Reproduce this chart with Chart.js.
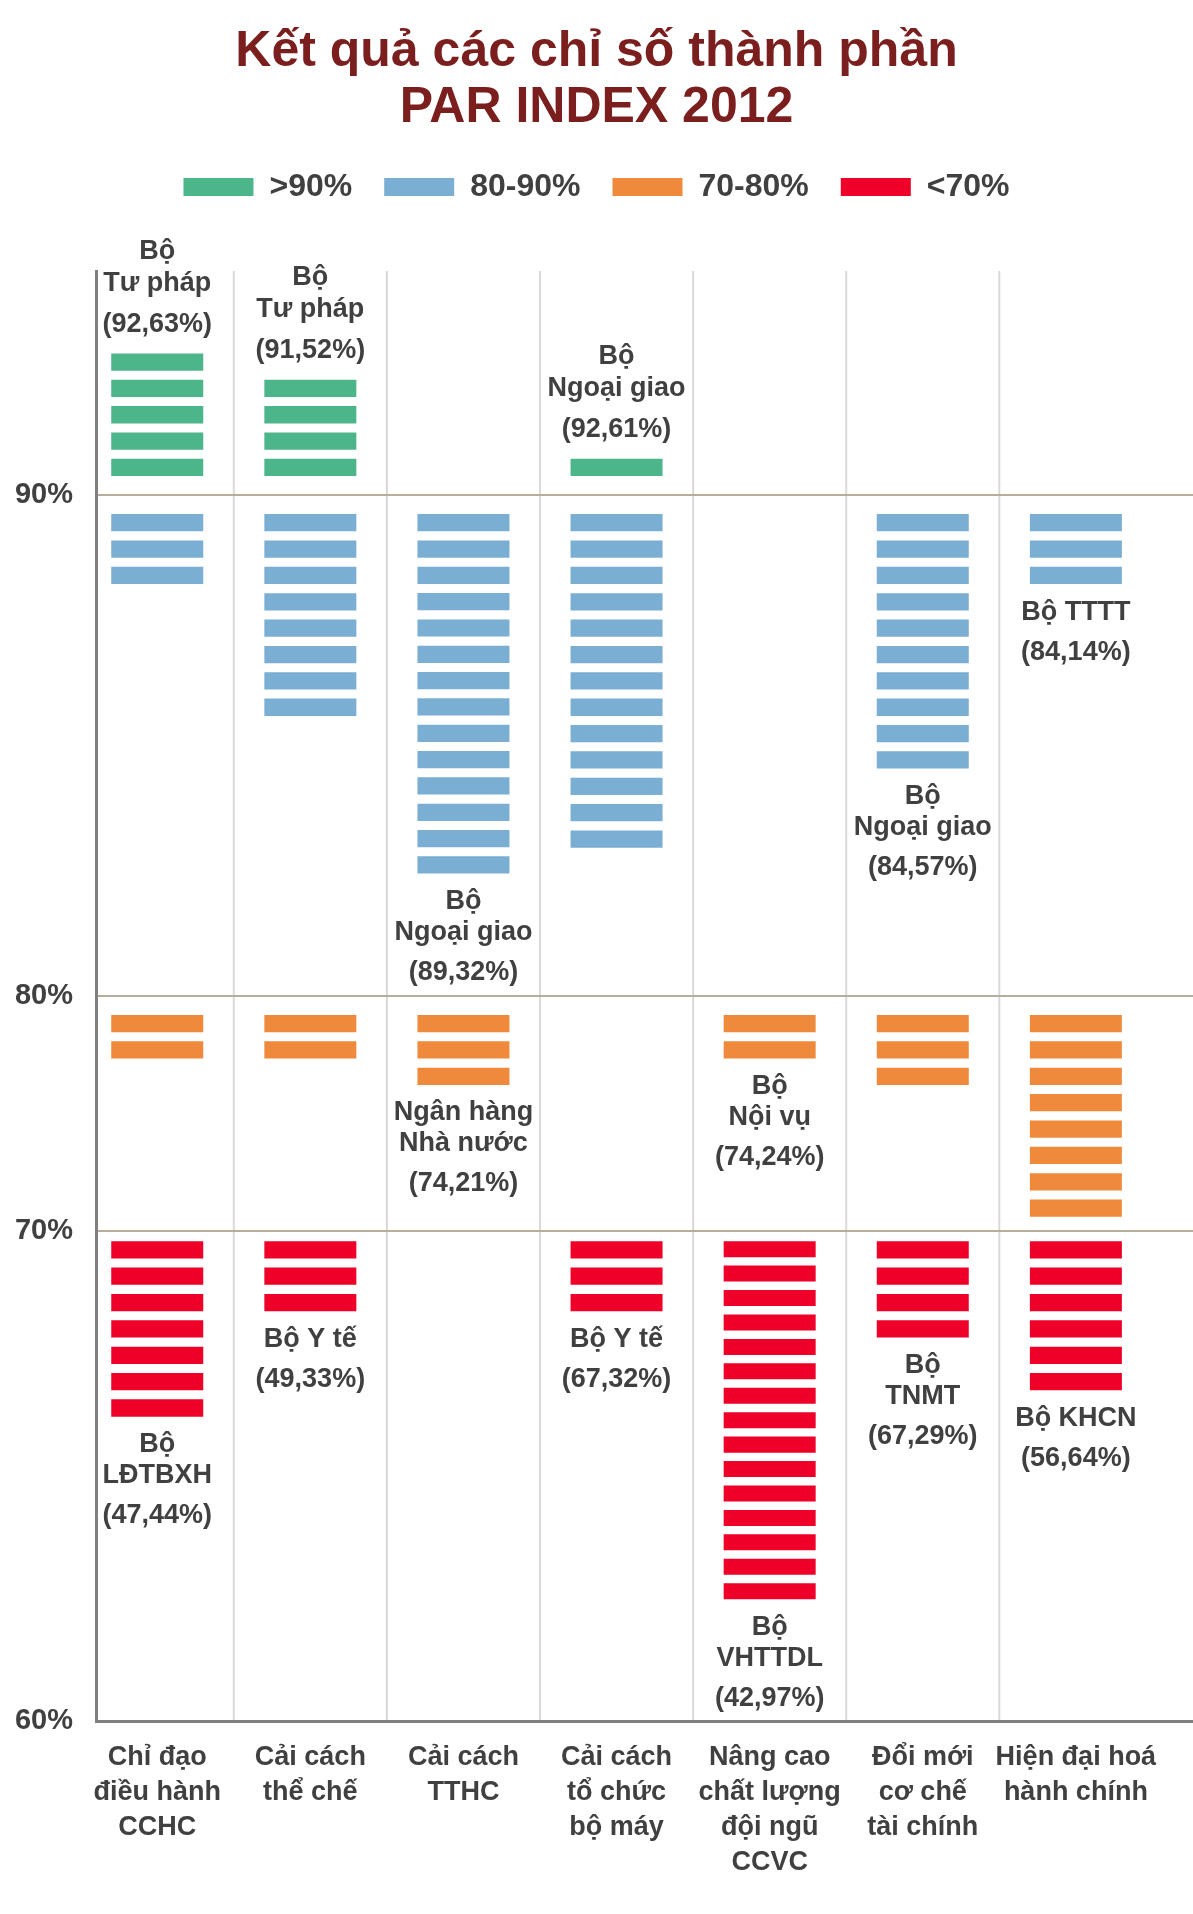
<!DOCTYPE html>
<html lang="vi">
<head>
<meta charset="utf-8">
<title>PAR INDEX 2012</title>
<script src="https://cdn.jsdelivr.net/npm/chart.js@4.4.1/dist/chart.umd.min.js"></script>
<style>
  html, body { margin: 0; padding: 0; background: #fff; }
  #wrap { width: 1193px; height: 1914px; }
</style>
</head>
<body>
<div id="wrap"><canvas id="parChart" width="1193" height="1914"></canvas></div>
<script>
// chỉ số thành phần (trục ngang)
const categories = [
  ['Chỉ đạo', 'điều hành', 'CCHC'],
  ['Cải cách', 'thể chế'],
  ['Cải cách', 'TTHC'],
  ['Cải cách', 'tổ chức', 'bộ máy'],
  ['Nâng cao', 'chất lượng', 'đội ngũ', 'CCVC'],
  ['Đổi mới', 'cơ chế', 'tài chính'],
  ['Hiện đại hoá', 'hành chính'],
];

// số bộ trong từng khoảng điểm
const countAbove90 = [5, 4, 0, 1, 0, 0, 0];
const count80to90 = [3, 8, 14, 13, 0, 10, 3];
const count70to80 = [2, 2, 3, 0, 2, 3, 8];
const countBelow70 = [7, 3, 0, 3, 15, 4, 6];

const bandLabels = ['>90%', '80-90%', '70-80%', '<70%'];
const yTickLabels = ['60%', '70%', '80%', '90%'];

// bộ cao nhất / thấp nhất của mỗi chỉ số
const bestNames = [
  ['Bộ', 'Tư pháp'], ['Bộ', 'Tư pháp'], ['Bộ', 'Ngoại giao'], ['Bộ', 'Ngoại giao'],
  ['Bộ', 'Nội vụ'], ['Bộ', 'Ngoại giao'], ['Bộ TTTT'],
];
const bestScores = [92.63, 91.52, 89.32, 92.61, 74.24, 84.57, 84.14];
const worstNames = [
  ['Bộ', 'LĐTBXH'], ['Bộ Y tế'], ['Ngân hàng', 'Nhà nước'], ['Bộ Y tế'],
  ['Bộ', 'VHTTDL'], ['Bộ', 'TNMT'], ['Bộ KHCN'],
];
const worstScores = [47.44, 49.33, 74.21, 67.32, 42.97, 67.29, 56.64];

const FONT = "'Liberation Sans', Arial, sans-serif";
const TEXT = '#404040';
const bandColors = ['#4cb68a', '#7aaed3', '#ef8a3c', '#ef0029'];

// trục dọc đo bằng "ô" (mỗi vạch một ô), các mốc 60/70/80/90%
const Y_EDGES = [0, 18.6, 27.5, 46.5];
const Y_MAX = 55;
const BAND_EDGE = [46.5, 46.5, 27.5, 18.6];
const BAND_FLOOR = [Y_MAX, 27.5, 18.6, 0];
const EDGE_GAP = [0.72, 0.72, 0.72, 0.4];
const DASH = 0.655;
const LABEL_ROOM = 4.3;

const counts = [countAbove90, count80to90, count70to80, countBelow70];
const bandOf = v => (v >= 90 ? 0 : v >= 80 ? 1 : v >= 70 ? 2 : 3);
const hasLabelBelow = (b, i) =>
  (b > 0 && bandOf(bestScores[i]) === b) || bandOf(worstScores[i]) === b;

const stacks = counts.map(() => []);
const datasets = counts.map((arr, b) => {
  const data = [];
  arr.forEach((n, i) => {
    if (!n) return;
    const room = Math.abs(BAND_EDGE[b] - BAND_FLOOR[b]) - EDGE_GAP[b] -
      (hasLabelBelow(b, i) ? LABEL_ROOM : 0);
    const s = Math.min(1, room / n);
    let top = -Infinity, bottom = Infinity;
    for (let k = 0; k < n; k++) {
      let lo, hi;
      if (b === 0) {
        lo = BAND_EDGE[b] + EDGE_GAP[b] + k * s;
        hi = lo + DASH * s;
      } else {
        hi = BAND_EDGE[b] - EDGE_GAP[b] - k * s;
        lo = hi - DASH * s;
      }
      data.push({ x: i, y: [lo, hi] });
      top = Math.max(top, hi);
      bottom = Math.min(bottom, lo);
    }
    stacks[b][i] = { top, bottom };
  });
  return {
    label: bandLabels[b],
    data,
    backgroundColor: bandColors[b],
    borderWidth: 0,
    grouped: false,
    maxBarThickness: 92,
  };
});

const columnLines = {
  id: 'columnLines',
  beforeDraw(chart) {
    const { ctx, chartArea, scales: { x } } = chart;
    ctx.save();
    ctx.strokeStyle = '#d9d9d9';
    ctx.lineWidth = 2;
    for (let i = 0; i < categories.length - 1; i++) {
      const px = x.getPixelForValue(i + 0.5);
      ctx.beginPath();
      ctx.moveTo(px, chartArea.top);
      ctx.lineTo(px, chartArea.bottom);
      ctx.stroke();
    }
    ctx.restore();
  },
};

const ministryLabels = {
  id: 'ministryLabels',
  afterDatasetsDraw(chart) {
    const { ctx, scales: { x, y } } = chart;
    ctx.save();
    ctx.font = `bold 27px ${FONT}`;
    ctx.fillStyle = TEXT;
    ctx.textAlign = 'center';
    ctx.textBaseline = 'middle';
    const put = (i, names, score) => {
      const b = bandOf(score);
      const st = stacks[b][i];
      const cx = x.getPixelForValue(i);
      const pct = '(' + score.toFixed(2).replace('.', ',') + '%)';
      if (b === 0) {
        let cy = y.getPixelForValue(st.top) - 29;
        ctx.fillText(pct, cx, cy);
        cy -= 41;
        for (let j = names.length - 1; j >= 0; j--) {
          ctx.fillText(names[j], cx, cy);
          cy -= 32;
        }
      } else {
        let cy = y.getPixelForValue(st.bottom) + 28;
        names.forEach((t, j) => {
          if (j > 0) cy += 31;
          ctx.fillText(t, cx, cy);
        });
        ctx.fillText(pct, cx, cy + 40);
      }
    };
    categories.forEach((_, i) => {
      put(i, bestNames[i], bestScores[i]);
      put(i, worstNames[i], worstScores[i]);
    });
    ctx.restore();
  },
};

new Chart(document.getElementById('parChart'), {
  type: 'bar',
  data: { datasets },
  options: {
    responsive: false,
    devicePixelRatio: 1,
    animation: false,
    events: [],
    layout: { padding: 0 },
    scales: {
      x: {
        type: 'linear',
        min: -0.4,
        max: 6.765,
        bounds: 'data',
        offset: false,
        afterBuildTicks: s => { s.ticks = categories.map((_, i) => ({ value: i })); },
        afterFit: s => { s.height = 193; },
        grid: { display: false, drawTicks: false, offset: false },
        border: { display: true, color: '#808080', width: 3 },
        ticks: {
          autoSkip: false,
          maxRotation: 0,
          minRotation: 0,
          padding: 19,
          color: TEXT,
          font: { family: FONT, size: 27, weight: 'bold', lineHeight: 1.3 },
          callback: v => categories[v],
        },
      },
      y: {
        min: 0,
        max: Y_MAX,
        bounds: 'data',
        afterBuildTicks: s => { s.ticks = Y_EDGES.map(v => ({ value: v })); },
        afterFit: s => { s.width = 96; },
        grid: {
          drawTicks: false,
          lineWidth: 2,
          color: c => (c.tick && c.tick.value === 0 ? 'rgba(0,0,0,0)' : '#b7ad9b'),
        },
        border: { color: '#808080', width: 3 },
        ticks: {
          padding: 23,
          color: TEXT,
          font: { family: FONT, size: 29, weight: 'bold' },
          callback: (v, i) => yTickLabels[i],
        },
      },
    },
    plugins: {
      title: {
        display: true,
        text: ['Kết quả các chỉ số thành phần', 'PAR INDEX 2012'],
        color: '#7b1e1e',
        font: { family: FONT, size: 50, weight: 'bold', lineHeight: 56 / 50 },
        padding: { top: 24, bottom: 3 },
      },
      subtitle: {
        display: true,
        text: ' ',
        weight: 500,
        font: { size: 2, lineHeight: 1 },
        padding: { top: 0, bottom: 56 },
      },
      legend: {
        labels: {
          boxWidth: 70,
          boxHeight: 18,
          padding: 32,
          color: TEXT,
          font: { family: FONT, size: 32, weight: 'bold' },
        },
      },
      tooltip: { enabled: false },
    },
  },
  plugins: [columnLines, ministryLabels],
});
</script>
</body>
</html>
